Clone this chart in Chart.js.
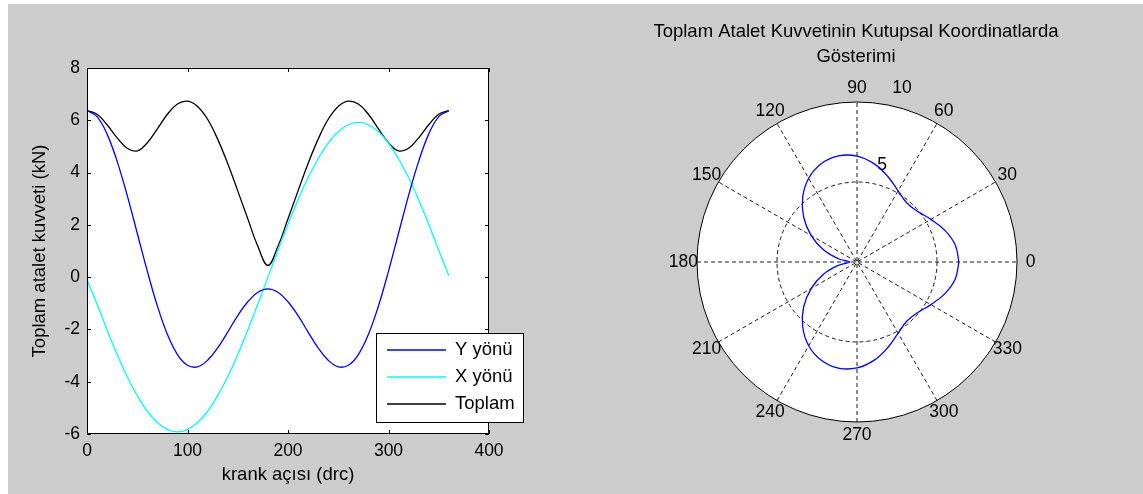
<!DOCTYPE html>
<html>
<head>
<meta charset="utf-8">
<script src="https://cdn.jsdelivr.net/npm/chart.js@4.4.0/dist/chart.umd.min.js"></script>
<style>
  body { margin: 0; background: #fff; width: 1143px; height: 494px; overflow: hidden; }
  #fig { position: absolute; left: 8px; top: 4px; width: 1135px; height: 490px; background: #cccccc; }
  #left { position: absolute; left: 0; top: 0; }
  #right { position: absolute; left: 580px; top: 0; }
</style>
</head>
<body>
<div id="fig"></div>
<canvas id="left" width="570" height="494"></canvas>
<canvas id="right" width="554" height="494"></canvas>
<script>
// krank açısı (derece)
const angles = [0,10,20,30,40,50,60,70,80,90,100,110,120,130,140,150,160,170,180,
  190,200,210,220,230,240,250,260,270,280,290,300,310,320,330,340,350,360];
const yYonu = [6.37,6.14,5.47,4.43,3.13,1.68,0.23,-1.10,-2.19,-2.96,-3.37,-3.43,-3.18,-2.71,-2.10,-1.47,-0.94,-0.58,-0.45,
  -0.58,-0.94,-1.47,-2.10,-2.71,-3.18,-3.43,-3.37,-2.96,-2.19,-1.10,0.23,1.68,3.13,4.43,5.47,6.14,6.37];
const xYonu = [-0.10,-1.03,-2.02,-2.96,-3.81,-4.53,-5.13,-5.56,-5.83,-5.92,-5.83,-5.56,-5.13,-4.53,-3.81,-2.96,-2.02,-1.03,0.00,
  1.03,2.02,2.96,3.81,4.53,5.13,5.56,5.83,5.92,5.83,5.56,5.13,4.53,3.81,2.96,2.02,1.03,0.05];
const toplam = [6.37,6.23,5.83,5.33,4.93,4.83,5.14,5.67,6.23,6.62,6.73,6.53,6.04,5.28,4.35,3.30,2.23,1.18,0.45,
  1.18,2.23,3.30,4.35,5.28,6.04,6.53,6.73,6.62,6.23,5.67,5.14,4.83,4.93,5.33,5.83,6.23,6.37];

const polarAngleLabels = [0,30,60,90,120,150,180,210,240,270,300,330];
const polarRings = [5,10];
const polarTitle = ['Toplam Atalet Kuvvetinin Kutupsal Koordinatlarda', 'Gösterimi'];

const FONT = '"Liberation Sans", Arial, Helvetica, sans-serif';
const tickSize = 17.5;
const textSize = 18.5;

// --- sol grafik ---
const boxTicks = {
  id: 'boxTicks',
  beforeDraw(chart) {
    const {ctx, chartArea: a} = chart;
    ctx.save();
    ctx.fillStyle = '#fff';
    ctx.fillRect(a.left, a.top, a.right - a.left, a.bottom - a.top);
    ctx.restore();
  },
  afterDraw(chart) {
    const {ctx, chartArea: a, scales} = chart;
    ctx.save();
    ctx.strokeStyle = '#000';
    ctx.lineWidth = 1;
    ctx.strokeRect(Math.round(a.left) + 0.5, Math.round(a.top) + 0.5,
      Math.round(a.right - a.left) - 1, Math.round(a.bottom - a.top) - 1);
    const len = 4;
    ctx.beginPath();
    scales.x.ticks.forEach(t => {
      const px = Math.round(scales.x.getPixelForValue(t.value)) + 0.5;
      ctx.moveTo(px, a.bottom); ctx.lineTo(px, a.bottom - len);
      ctx.moveTo(px, a.top); ctx.lineTo(px, a.top + len);
    });
    scales.y.ticks.forEach(t => {
      const py = Math.round(scales.y.getPixelForValue(t.value)) + 0.5;
      ctx.moveTo(a.left, py); ctx.lineTo(a.left + len, py);
      ctx.moveTo(a.right, py); ctx.lineTo(a.right - len, py);
    });
    ctx.stroke();

    // lejant
    const lx = a.right - 113, ly = a.bottom - 101, lw = 147, lh = 89;
    ctx.fillStyle = '#fff';
    ctx.fillRect(lx, ly, lw, lh);
    ctx.strokeRect(lx + 0.5, ly + 0.5, lw, lh);
    ctx.font = textSize + 'px ' + FONT;
    ctx.textBaseline = 'middle';
    chart.data.datasets.forEach((ds, i) => {
      const y = ly + 17 + i * 27;
      ctx.strokeStyle = ds.borderColor;
      ctx.lineWidth = 1.3;
      ctx.beginPath();
      ctx.moveTo(lx + 11, y); ctx.lineTo(lx + 70, y);
      ctx.stroke();
      ctx.fillStyle = '#000';
      ctx.fillText(ds.label, lx + 79, y);
    });
    ctx.restore();
  }
};

new Chart(document.getElementById('left'), {
  type: 'line',
  data: {
    labels: angles,
    datasets: [
      { label: 'Y yönü', data: angles.map((a, i) => ({x: a, y: yYonu[i]})), borderColor: '#0000ff' },
      { label: 'X yönü', data: angles.map((a, i) => ({x: a, y: xYonu[i]})), borderColor: '#00ffff' },
      { label: 'Toplam', data: angles.map((a, i) => ({x: a, y: toplam[i]})), borderColor: '#000000' }
    ].map(d => Object.assign(d, { borderWidth: 1.3, pointRadius: 0, tension: 0.4, fill: false }))
  },
  options: {
    responsive: false,
    animation: false,
    layout: { padding: { left: 0, top: 68, right: 81, bottom: 0 } },
    plugins: { legend: { display: false }, tooltip: { enabled: false } },
    scales: {
      x: {
        type: 'linear', min: 0, max: 400,
        ticks: { stepSize: 100, color: '#000', padding: 7, font: { family: FONT, size: tickSize } },
        grid: { display: false, drawTicks: false },
        border: { display: false },
        title: { display: true, text: 'krank açısı (drc)', color: '#000', padding: { top: 0, bottom: 8 },
          font: { family: FONT, size: textSize } },
        afterFit(s) { s.height = 60; }
      },
      y: {
        min: -6, max: 8,
        ticks: { stepSize: 2, color: '#000', padding: 7, font: { family: FONT, size: tickSize } },
        grid: { display: false, drawTicks: false },
        border: { display: false },
        title: { display: true, text: 'Toplam atalet kuvveti (kN)', color: '#000', padding: { top: 29, bottom: 0 },
          font: { family: FONT, size: textSize } },
        afterFit(s) { s.width = 87; }
      }
    }
  },
  plugins: [boxTicks]
});

// --- sağ grafik: kutupsal ---
const polarGrid = {
  id: 'polarGrid',
  beforeDatasetsDraw(chart) {
    const {ctx, scales: {x, y}} = chart;
    const cx = x.getPixelForValue(0), cy = y.getPixelForValue(0);
    const rmax = polarRings[polarRings.length - 1];
    const R = v => x.getPixelForValue(v) - cx;
    ctx.save();
    ctx.fillStyle = '#fff';
    ctx.beginPath(); ctx.arc(cx, cy, R(rmax), 0, Math.PI * 2); ctx.fill();

    ctx.strokeStyle = '#000';
    ctx.lineWidth = 0.9;
    ctx.setLineDash([4, 3]);
    polarRings.slice(0, -1).forEach(r => {
      ctx.beginPath(); ctx.arc(cx, cy, R(r), 0, Math.PI * 2); ctx.stroke();
    });
    polarAngleLabels.slice(0, 6).forEach(a => {
      const t = a * Math.PI / 180;
      ctx.beginPath();
      ctx.moveTo(x.getPixelForValue(-rmax * Math.cos(t)), y.getPixelForValue(-rmax * Math.sin(t)));
      ctx.lineTo(x.getPixelForValue(rmax * Math.cos(t)), y.getPixelForValue(rmax * Math.sin(t)));
      ctx.stroke();
    });
    ctx.setLineDash([]);
    ctx.lineWidth = 1;
    ctx.beginPath(); ctx.arc(cx, cy, R(rmax), 0, Math.PI * 2); ctx.stroke();

    ctx.fillStyle = '#000';
    ctx.font = tickSize + 'px ' + FONT;
    ctx.textAlign = 'center';
    ctx.textBaseline = 'middle';
    polarAngleLabels.forEach(a => {
      const t = a * Math.PI / 180, r = rmax * 1.085;
      ctx.fillText(String(a), x.getPixelForValue(r * Math.cos(t)), y.getPixelForValue(r * Math.sin(t)));
    });
    polarRings.forEach(r => {
      const t = 75.5 * Math.PI / 180, rr = r + 1.25;
      ctx.fillText(String(r), x.getPixelForValue(rr * Math.cos(t)), y.getPixelForValue(rr * Math.sin(t)));
    });

    // başlık
    ctx.font = textSize + 'px ' + FONT;
    polarTitle.forEach((line, i) => ctx.fillText(line, cx - 1, 32 + i * 25));
    ctx.restore();
  }
};

new Chart(document.getElementById('right'), {
  type: 'scatter',
  data: {
    datasets: [{
      label: 'Toplam',
      data: angles.map((a, i) => ({
        x: toplam[i] * Math.cos(a * Math.PI / 180),
        y: toplam[i] * Math.sin(a * Math.PI / 180)
      })),
      showLine: true, borderColor: '#0000ff', borderWidth: 1.3, pointRadius: 0, tension: 0.4
    }]
  },
  options: {
    responsive: false,
    animation: false,
    layout: { padding: { left: 117, right: 117, top: 102, bottom: 72 } },
    plugins: { legend: { display: false }, tooltip: { enabled: false } },
    scales: {
      x: { type: 'linear', min: -10, max: 10, display: false },
      y: { type: 'linear', min: -10, max: 10, display: false }
    }
  },
  plugins: [polarGrid]
});
</script>
</body>
</html>
